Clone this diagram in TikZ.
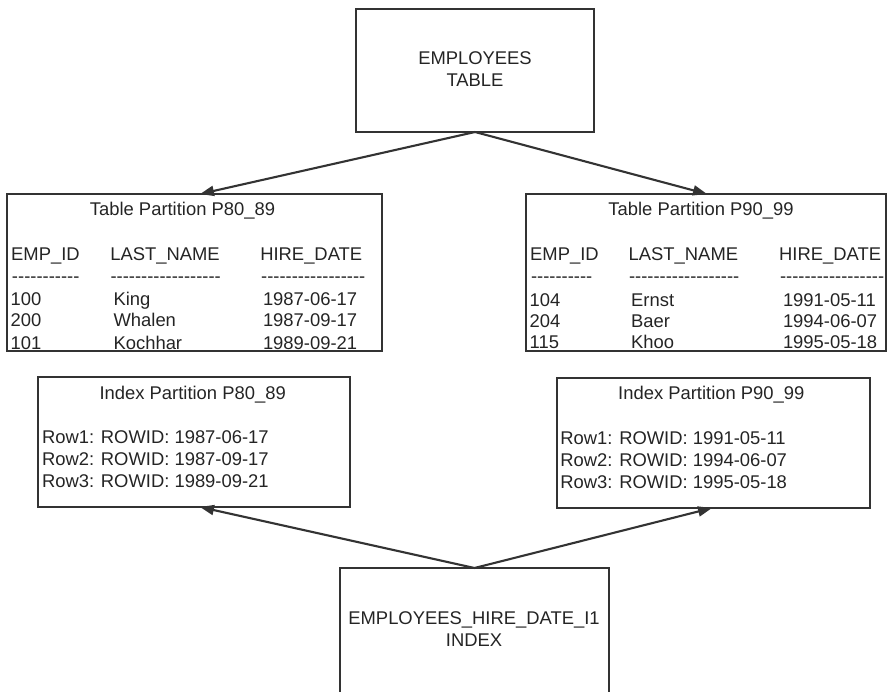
\documentclass[tikz,border=0pt]{standalone}
\usepackage{fontspec}
\setmainfont{Liberation Sans}
\usetikzlibrary{arrows.meta,calc}

% a run of separate hyphens (kerns keep them from joining into dashes)
\newcount\hycount
\newcommand\hyphenrun[1]{\hycount=#1\relax
  \loop\ifnum\hycount>0 -\kern0pt\advance\hycount by -1\relax\repeat}

\definecolor{linec}{HTML}{333333}
\definecolor{textc}{HTML}{242424}

\begin{document}
\begin{tikzpicture}[x=1pt,y=-1pt,
  box/.style={draw=linec, line width=2.3pt, inner sep=0pt, outer sep=0pt},
  txt/.style={text=textc, inner sep=0pt, outer sep=0pt,
              font=\fontsize{18.4}{22}\selectfont},
  cell/.style={txt, anchor=base west},
  ttl/.style={txt, anchor=base},
  link/.style={draw=linec, line width=2.1pt,
               -{Triangle[length=14pt,width=10pt]}}]
\useasboundingbox (0,0) rectangle (888,691);
\clip (0,0) rectangle (888,691);

% ---- boxes ----
\node[box, minimum width=238pt, minimum height=123pt] (emp)  at (475,70.5) {};
\node[box, minimum width=375pt, minimum height=157pt] (ltab) at (194.5,272.5) {};
\node[box, minimum width=360pt, minimum height=157pt] (rtab) at (706,272.5) {};
\node[box, minimum width=312pt, minimum height=130pt] (lidx) at (194,442) {};
\node[box, minimum width=313pt, minimum height=130pt] (ridx) at (713.5,443) {};
\node[box, minimum width=269pt, minimum height=128pt] (idx)  at (474.5,632) {};

% ---- connectors ----
\draw[link] (emp.south) -- ([xshift=5.5pt]ltab.north);
\draw[link] (emp.south) -- ([xshift=1pt]rtab.north);
\draw[link] (idx.north) -- ([xshift=6pt]lidx.south);
\draw[link] (idx.north) -- ([xshift=-1.5pt]ridx.south);

% ---- table and index labels ----
\node[txt, align=center] (emptext) at (475,69.2) {EMPLOYEES\\TABLE};
\node[txt, align=center] (idxtext) at (474,628.7) {EMPLOYEES\_HIRE\_DATE\_I1\\INDEX};

% ---- table partition P80_89 ----
\node[ttl]  (lt-title) at (182.5,215) {Table Partition P80\_89};
\node[cell] (lt-h1) at (11.2,260)  {EMP\_ID};
\node[cell] (lt-h2) at (110.3,260) {LAST\_NAME};
\node[cell] (lt-h3) at (260.3,260) {HIRE\_DATE};
\node[cell] (lt-d1) at (12,282)    {\hyphenrun{11}};
\node[cell] (lt-d2) at (110.5,282) {\hyphenrun{18}};
\node[cell] (lt-d3) at (261.2,282) {\hyphenrun{17}};
\node[cell] (lt-r1a) at (10.7,305)  {100};
\node[cell] (lt-r1b) at (113.6,305) {King};
\node[cell] (lt-r1c) at (263,305)   {1987-06-17};
\node[cell] (lt-r2a) at (10.7,326.5)  {200};
\node[cell] (lt-r2b) at (113.6,326.5) {Whalen};
\node[cell] (lt-r2c) at (263,326.5)   {1987-09-17};
\node[cell] (lt-r3a) at (10.7,349)  {101};
\node[cell] (lt-r3b) at (113.6,349) {Kochhar};
\node[cell] (lt-r3c) at (263,349)   {1989-09-21};

% ---- table partition P90_99 ----
\node[ttl]  (rt-title) at (701,215) {Table Partition P90\_99};
\node[cell] (rt-h1) at (530.2,260) {EMP\_ID};
\node[cell] (rt-h2) at (628.7,260) {LAST\_NAME};
\node[cell] (rt-h3) at (779.2,260) {HIRE\_DATE};
\node[cell] (rt-d1) at (531,282)   {\hyphenrun{10}};
\node[cell] (rt-d2) at (629,282)   {\hyphenrun{18}};
\node[cell] (rt-d3) at (780,282)   {\hyphenrun{17}};
\node[cell] (rt-r1a) at (529.7,306) {104};
\node[cell] (rt-r1b) at (631.2,306) {Ernst};
\node[cell] (rt-r1c) at (783,306)   {1991-05-11};
\node[cell] (rt-r2a) at (529.7,327) {204};
\node[cell] (rt-r2b) at (631.2,327) {Baer};
\node[cell] (rt-r2c) at (783,327)   {1994-06-07};
\node[cell] (rt-r3a) at (529.7,348.5) {115};
\node[cell] (rt-r3b) at (631.2,348.5) {Khoo};
\node[cell] (rt-r3c) at (783,348.5)   {1995-05-18};

% ---- index partition P80_89 ----
\node[ttl]  (li-title) at (192.7,399) {Index Partition P80\_89};
\node[cell] (li-r1) at (42,443) {Row1: ROWID: 1987-06-17};
\node[cell] (li-r2) at (42,465) {Row2: ROWID: 1987-09-17};
\node[cell] (li-r3) at (42,487) {Row3: ROWID: 1989-09-21};

% ---- index partition P90_99 ----
\node[ttl]  (ri-title) at (711.3,399.3) {Index Partition P90\_99};
\node[cell] (ri-r1) at (560.3,444) {Row1: ROWID: 1991-05-11};
\node[cell] (ri-r2) at (560.3,466) {Row2: ROWID: 1994-06-07};
\node[cell] (ri-r3) at (560.3,488) {Row3: ROWID: 1995-05-18};
\end{tikzpicture}
\end{document}
